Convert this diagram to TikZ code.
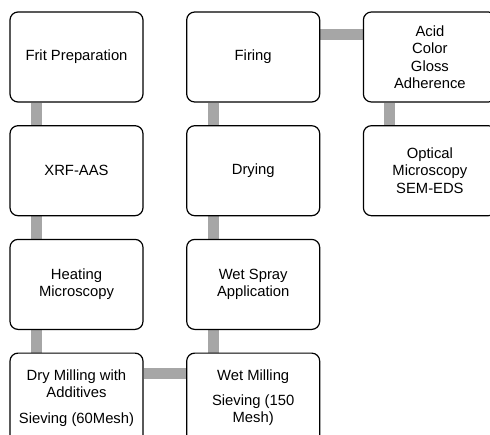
\documentclass[tikz,border=0pt]{standalone}
\usepackage{fontspec}
\setmainfont{Liberation Sans}
\usetikzlibrary{positioning, backgrounds}
\definecolor{bargray}{HTML}{A6A6A6}

\begin{document}
\begin{tikzpicture}[
  x=1pt, y=-1pt,
  node distance=22.5pt and 42.5pt,
  stepBox/.style={draw=black, line width=1.2pt, fill=white, rounded corners=8pt, minimum width=133pt, minimum height=90pt, inner sep=2pt, align=center, font=\fontsize{14.8}{17.5}\selectfont},
  bar/.style={draw=bargray, line width=11pt}
]
\useasboundingbox (0,0) rectangle (490,434);
\clip (0,0) rectangle (490,434);

% Column 1: frit and dry milling
\node[stepBox] (frit) at (76.5,57) {Frit Preparation};
\node[stepBox, below=of frit] (xrf) {XRF-AAS};
\node[stepBox, below=of xrf] (heating) {Heating\\Microscopy};
\node[stepBox, below=of heating] (drymill) {Dry Milling with\\Additives\\[8pt]Sieving (60Mesh)};

% Column 2: wet processing and firing
\node[stepBox, right=of drymill] (wetmill) {Wet Milling\\[7pt]Sieving (150\\Mesh)};
\node[stepBox, above=of wetmill] (spray) {Wet Spray\\Application};
\node[stepBox, above=of spray] (drying) {Drying};
\node[stepBox, above=of drying] (firing) {Firing};

% Column 3: testing
\node[stepBox, right=of firing] (acid) {Acid\\Color\\Gloss\\Adherence};
\node[stepBox, below=of acid] (optical) {Optical\\Microscopy\\SEM-EDS};

% Gray connector bars
\begin{scope}[on background layer]
  \draw[bar] ([xshift=27pt]frit.south west) -- ([xshift=27pt]xrf.north west);
  \draw[bar] ([xshift=27pt]xrf.south west) -- ([xshift=27pt]heating.north west);
  \draw[bar] ([xshift=27pt]heating.south west) -- ([xshift=27pt]drymill.north west);
  \draw[bar] ([yshift=-21pt]drymill.north east) -- ([yshift=-21pt]wetmill.north west);
  \draw[bar] ([xshift=27pt]wetmill.north west) -- ([xshift=27pt]spray.south west);
  \draw[bar] ([xshift=27pt]spray.north west) -- ([xshift=27pt]drying.south west);
  \draw[bar] ([xshift=27pt]drying.north west) -- ([xshift=27pt]firing.south west);
  \draw[bar] ([yshift=-23pt]firing.north east) -- ([yshift=-23pt]acid.north west);
  \draw[bar] ([xshift=27pt]acid.south west) -- ([xshift=27pt]optical.north west);
\end{scope}

\end{tikzpicture}
\end{document}
